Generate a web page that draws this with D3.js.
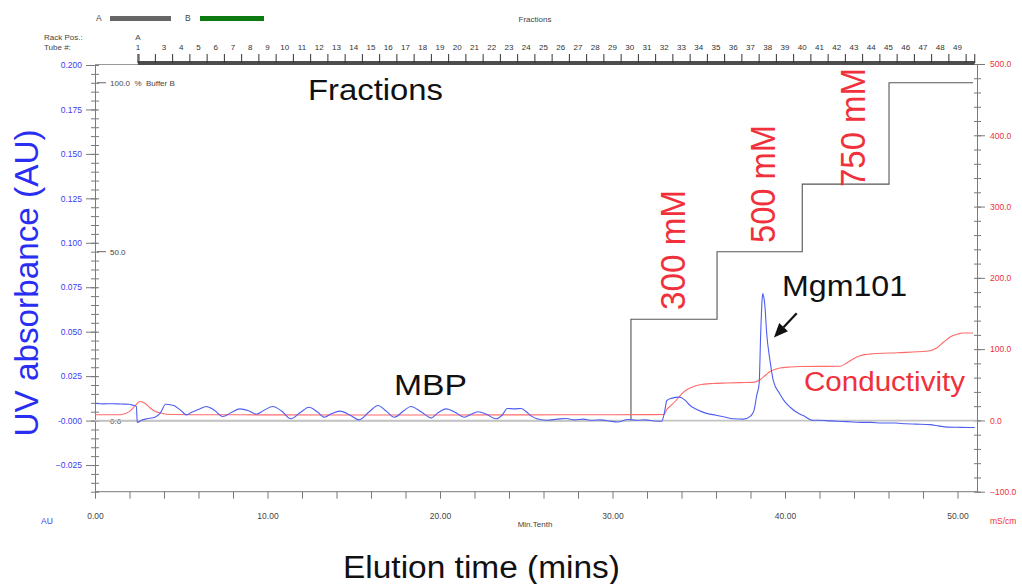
<!DOCTYPE html>
<html><head><meta charset="utf-8">
<script src="https://cdn.jsdelivr.net/npm/d3@7"></script>
<style>
body{margin:0;background:#fff}
svg{display:block}
text{font-family:"Liberation Sans",Arial,Helvetica,sans-serif}
</style>
</head><body>
<svg id="chart" width="1022" height="584"></svg>
<script>
// ---------- DATA ----------
// UV absorbance trace (min, AU)
const uvTime = [0.0,0.5,1.0,1.5,2.0,2.2,2.4,2.45,2.7,3.0,3.5,3.8,4.1,4.3,4.6,5.0,5.3,5.6,6.0,6.45,6.9,7.4,7.9,8.4,8.9,9.35,9.8,10.3,10.8,11.35,11.9,12.4,12.9,13.3,13.7,14.2,14.8,15.3,15.9,16.4,16.9,17.35,17.9,18.3,18.9,19.5,19.9,20.35,20.9,21.4,21.8,22.2,22.7,23.25,23.6,23.9,24.3,24.7,25.0,25.3,25.8,26.2,26.8,27.3,27.8,28.3,28.8,29.3,29.8,30.3,30.9,31.4,31.9,32.4,32.85,33.0,33.15,33.4,33.9,34.2,34.5,34.8,35.4,36.0,36.5,37.0,37.6,38.0,38.2,38.36,38.5,38.59,38.67,38.71,38.76,38.84,38.94,39.13,39.32,39.7,40.0,40.3,40.7,41.06,41.6,42.0,42.4,43.0,43.6,44.4,45.0,45.6,46.4,47.0,47.6,48.4,48.9,49.4,50.2,51.0];
const uvAU = [0.0096,0.0094,0.0095,0.0093,0.0092,0.0086,0.0080,-0.0010,0.0002,0.0010,0.0020,0.0045,0.0092,0.0090,0.0084,0.0055,0.0032,0.0047,0.0062,0.0079,0.0060,0.0023,0.0045,0.0066,0.0055,0.0036,0.0058,0.0079,0.0055,0.0010,0.0045,0.0075,0.0048,0.0019,0.0038,0.0053,0.0030,0.0004,0.0050,0.0085,0.0052,0.0019,0.0055,0.0079,0.0050,0.0015,0.0045,0.0066,0.0045,0.0019,0.0035,0.0050,0.0035,0.0010,0.0030,0.0068,0.0066,0.0068,0.0050,0.0025,0.0006,0.0002,0.0008,0.0012,0.0004,0.0008,0.0002,0.0004,-0.0002,-0.0008,0.0006,0.0002,0.0004,-0.0002,-0.0004,0.0040,0.0113,0.0125,0.0132,0.0115,0.0085,0.0066,0.0042,0.0030,0.0020,0.0010,0.0008,0.0025,0.0056,0.0142,0.0207,0.0488,0.0676,0.0714,0.0700,0.0638,0.0488,0.0338,0.0225,0.0150,0.0105,0.0075,0.0045,0.0028,0.0002,0.0002,0.0000,-0.0004,-0.0006,-0.0010,-0.0010,-0.0014,-0.0014,-0.0018,-0.0020,-0.0023,-0.0030,-0.0037,-0.0038,-0.0039];
// Conductivity trace (min, mS/cm)
const condTime = [0,1.5,2.0,2.3,2.6,2.9,3.2,3.5,3.8,4.5,6,10,15,20,25,30,33.0,33.14,33.4,33.72,34.0,34.3,34.7,35.07,35.8,36.6,37.4,38.16,38.55,38.85,39.13,39.4,39.7,40.3,40.87,42.0,43.2,43.58,44.0,44.35,45.1,46.5,48.2,48.8,49.2,49.57,50.0,50.3,50.9];
const condMS = [8,8,12.6,20,26.6,24,17.4,12.5,10.4,8.2,8,7.8,7.5,7.5,7.8,8,8.2,15,21,29,37,43,47.5,50,51.8,52.5,53,53.3,57,63,68.7,71.5,73.5,75,75.7,75.8,76,80.5,87,90.7,93.5,95,97,101.5,110,117,121,122.6,122.6];
// Step gradient, % Buffer B
const bTime = [0,31.07,31.07,36.06,36.06,41.0,41.0,46.03,46.03,50.9];
const bPct  = [0,0,30,30,50,50,70,70,100,100];
// Fraction collector tubes
const tubeNumbers = [1,2,3,4,5,6,7,8,9,10,11,12,13,14,15,16,17,18,19,20,21,22,23,24,25,26,27,28,29,30,31,32,33,34,35,36,37,38,39,40,41,42,43,44,45,46,47,48,49];
const tubeStarts  = [2.49,2.55,3.5,4.5,5.5,6.5,7.5,8.5,9.5,10.5,11.5,12.5,13.5,14.5,15.5,16.5,17.5,18.5,19.5,20.5,21.5,22.5,23.5,24.5,25.5,26.5,27.5,28.5,29.5,30.5,31.5,32.5,33.5,34.5,35.5,36.5,37.5,38.5,39.5,40.5,41.5,42.5,43.5,44.5,45.5,46.5,47.5,48.5,49.5];
const tubeLastEnd = 50.5;
const fractionBarEnd = 51.0;
// Axis ticks
const xTicks = [0,10,20,30,40,50];
const leftTicks = [-0.025,0,0.025,0.05,0.075,0.1,0.125,0.15,0.175,0.2];
const rightTicks = [-100,0,100,200,300,400,500];
const saltLabels = ["300 mM","500 mM","750 mM"];

// ---------- SCALES ----------
const svg = d3.select("#chart");
const x = d3.scaleLinear().domain([0, 51.13]).range([95, 977]);
const yL = d3.scaleLinear().domain([-0.04, 0.2]).range([491.7, 65]);
const yR = d3.scaleLinear().domain([-100, 500]).range([491.7, 64]);
const yB = d3.scaleLinear().domain([0, 100]).range([yL(0), yL(0.19)]);

const axisGray = "#7a7a7a";
const blueTxt = "#3d3df2";
const redTxt = "#f0303a";

// ---------- HEADER ----------
svg.append("text").attr("x",96).attr("y",21).attr("font-size",8.5).attr("fill","#444").text("A");
svg.append("line").attr("x1",110).attr("x2",171).attr("y1",18.5).attr("y2",18.5).attr("stroke","#666").attr("stroke-width",5);
svg.append("text").attr("x",185).attr("y",21).attr("font-size",8.5).attr("fill","#444").text("B");
svg.append("line").attr("x1",200).attr("x2",264).attr("y1",18.5).attr("y2",18.5).attr("stroke","#0d7a12").attr("stroke-width",5);
svg.append("text").attr("x",535).attr("y",22).attr("font-size",8).attr("fill","#444").attr("text-anchor","middle").text("Fractions");
svg.append("text").attr("x",44).attr("y",40).attr("font-size",8).attr("fill","#444").text("Rack Pos.:");
svg.append("text").attr("x",44).attr("y",50).attr("font-size",8).attr("fill","#444").text("Tube #:");
svg.append("text").attr("x",x(tubeStarts[0])).attr("y",40).attr("font-size",8).attr("fill","#444").attr("text-anchor","middle").text("A");

// top frame line
svg.append("line").attr("x1",95).attr("x2",977).attr("y1",64.5).attr("y2",64.5).attr("stroke","#999").attr("stroke-width",1);
// fraction bar
svg.append("line").attr("x1",x(tubeStarts[0])).attr("x2",x(fractionBarEnd)).attr("y1",63).attr("y2",63).attr("stroke","#4d4d4d").attr("stroke-width",4);
const fracTicks = tubeStarts.concat([tubeLastEnd, fractionBarEnd]);
svg.selectAll("line.ftick").data(fracTicks).enter().append("line").attr("class","ftick")
  .attr("x1",d=>x(d)).attr("x2",d=>x(d)).attr("y1",54).attr("y2",63).attr("stroke","#333").attr("stroke-width",1);
// tube labels centred in each fraction, hiding overlapping ones
let lastLabelX = -100;
tubeNumbers.forEach((n,i)=>{
  const s = tubeStarts[i], e = i+1<tubeStarts.length ? tubeStarts[i+1] : tubeLastEnd;
  const cx = x((s+e)/2);
  if (i===0) { svg.append("text").attr("x",x(s)).attr("y",50).attr("font-size",8).attr("fill","#333").attr("text-anchor","middle").text(n); lastLabelX = x(s); return; }
  if (cx - lastLabelX < 12) return;
  svg.append("text").attr("x",cx).attr("y",50).attr("font-size",8).attr("fill","#333").attr("text-anchor","middle").text(n);
  lastLabelX = cx;
});

// ---------- AXES ----------
function styleAxis(g, col, lab){
  g.select(".domain").attr("stroke",axisGray);
  g.selectAll(".tick line").attr("stroke",axisGray);
  g.selectAll(".tick text").attr("fill",lab).attr("font-size",8.5).attr("font-family","Liberation Sans, Arial, sans-serif");
}
// left minor
const gLm = svg.append("g").attr("transform","translate(95,0)")
  .call(d3.axisLeft(yL).tickValues(d3.range(-0.04,0.2001,0.005)).tickFormat("").tickSizeOuter(0).tickSize(4));
gLm.select(".domain").remove();
gLm.selectAll(".tick line").attr("x1",4).attr("x2",-4).attr("stroke",axisGray);
// left major
const gL = svg.append("g").attr("transform","translate(95,0)")
  .call(d3.axisLeft(yL).tickValues(leftTicks).tickSize(9).tickSizeOuter(0).tickPadding(4)
    .tickFormat(d=> Math.abs(d)<1e-9 ? "-0.000" : d3.format(".3f")(d)));
styleAxis(gL, axisGray, blueTxt);
gL.selectAll(".tick line").attr("x2",-9).attr("x1",2);

// right minor
const gRm = svg.append("g").attr("transform","translate(977,0)")
  .call(d3.axisRight(yR).tickValues(d3.range(-100,501,20)).tickFormat("").tickSizeOuter(0).tickSize(4));
gRm.select(".domain").remove();
gRm.selectAll(".tick line").attr("x1",-3).attr("x2",4).attr("stroke",axisGray);
// right major
const gR = svg.append("g").attr("transform","translate(977,0)")
  .call(d3.axisRight(yR).tickValues(rightTicks).tickSize(8).tickSizeOuter(0).tickPadding(5).tickFormat(d3.format(".1f")));
styleAxis(gR, axisGray, redTxt);

// bottom
const gB = svg.append("g").attr("transform","translate(0,491.7)")
  .call(d3.axisBottom(x).tickValues(d3.range(0,51,2)).tickSize(7).tickSizeOuter(0).tickPadding(14)
    .tickFormat(d=> xTicks.includes(d) ? d3.format(".2f")(d) : ""));
styleAxis(gB, axisGray, "#444");
gB.select(".domain").attr("d","M95,0H977");

// unit labels
svg.append("text").attr("x",47).attr("y",524).attr("font-size",8.5).attr("fill",blueTxt).attr("text-anchor","middle").text("AU");
svg.append("text").attr("x",535).attr("y",527).attr("font-size",8).attr("fill","#444").attr("text-anchor","middle").text("Min.Tenth");
svg.append("text").attr("x",990).attr("y",524).attr("font-size",8.5).attr("fill",redTxt).text("mS/cm");

// %B scale labels
[[100,"100.0  %  Buffer B"],[50,"50.0"],[0,"0.0"]].forEach(([v,t])=>{
  if (v>0) svg.append("line").attr("x1",97).attr("x2",106).attr("y1",yB(v)).attr("y2",yB(v)).attr("stroke","#666");
  svg.append("text").attr("x",110).attr("y",yB(v)+3).attr("font-size",8).attr("fill","#444").attr("xml:space","preserve").text(t);
});

// ---------- TRACES ----------
const bLine = d3.line().x((d,i)=>x(bTime[i])).y((d,i)=>yB(bPct[i]));
svg.append("path").attr("d",bLine(bPct)).attr("fill","none").attr("stroke","#555").attr("stroke-width",1.1);

// zero line (drawn over the 0 % part of the gradient)
svg.append("line").attr("x1",95).attr("x2",977).attr("y1",yL(0)).attr("y2",yL(0)).attr("stroke","#c4c4c4").attr("stroke-width",1.8);

const cLine = d3.line().x((d,i)=>x(condTime[i])).y((d,i)=>yR(condMS[i])).curve(d3.curveMonotoneX);
svg.append("path").attr("d",cLine(condMS)).attr("fill","none").attr("stroke","#ff6a6a").attr("stroke-width",1.1);

const uLine = d3.line().x((d,i)=>x(uvTime[i])).y((d,i)=>yL(uvAU[i])).curve(d3.curveMonotoneX);
svg.append("path").attr("d",uLine(uvAU)).attr("fill","none").attr("stroke","#4f5ef0").attr("stroke-width",1.1);

// ---------- ANNOTATIONS ----------
svg.append("text").attr("x",308).attr("y",100).attr("font-size",30).attr("fill","#111")
  .attr("textLength",135).attr("lengthAdjust","spacingAndGlyphs").text("Fractions");
svg.append("text").attr("x",394).attr("y",395).attr("font-size",30).attr("fill","#111")
  .attr("textLength",73).attr("lengthAdjust","spacingAndGlyphs").text("MBP");
svg.append("text").attr("x",782).attr("y",296).attr("font-size",30).attr("fill","#111")
  .attr("textLength",125).attr("lengthAdjust","spacingAndGlyphs").text("Mgm101");
svg.append("text").attr("x",804).attr("y",391).attr("font-size",27).attr("fill",redTxt)
  .attr("textLength",161).attr("lengthAdjust","spacingAndGlyphs").text("Conductivity");
svg.append("text").attr("x",343).attr("y",578).attr("font-size",31).attr("fill","#111")
  .attr("textLength",277).attr("lengthAdjust","spacingAndGlyphs").text("Elution time (mins)");
svg.append("text").attr("transform","translate(38,283) rotate(-90)").attr("text-anchor","middle")
  .attr("font-size",33).attr("fill","#2a2ef2").attr("textLength",307).attr("lengthAdjust","spacingAndGlyphs").text("UV absorbance (AU)");

// salt step labels (rotated), positioned near each step
const saltPos = [[685,310,120],[775,243,118],[865,187,119]];
saltLabels.forEach((t,i)=>{
  svg.append("text").attr("transform",`translate(${saltPos[i][0]},${saltPos[i][1]}) rotate(-90)`)
    .attr("font-size",35).attr("fill",redTxt).attr("textLength",saltPos[i][2]).attr("lengthAdjust","spacingAndGlyphs").text(t);
});

// arrow pointing at Mgm101 peak
const tip = [x(39.36), yL(0.0468)], tail = [x(40.68), yL(0.0604)];
const ang = Math.atan2(tip[1]-tail[1], tip[0]-tail[0]);
const hl = 14, hw = 6;
const bx = tip[0]-hl*Math.cos(ang), by = tip[1]-hl*Math.sin(ang);
svg.append("line").attr("x1",tail[0]).attr("y1",tail[1]).attr("x2",bx).attr("y2",by).attr("stroke","#111").attr("stroke-width",2.2);
svg.append("path").attr("d",`M${tip[0]},${tip[1]}L${bx+hw*Math.sin(ang)},${by-hw*Math.cos(ang)}L${bx-hw*Math.sin(ang)},${by+hw*Math.cos(ang)}Z`).attr("fill","#111");
</script>
</body></html>
